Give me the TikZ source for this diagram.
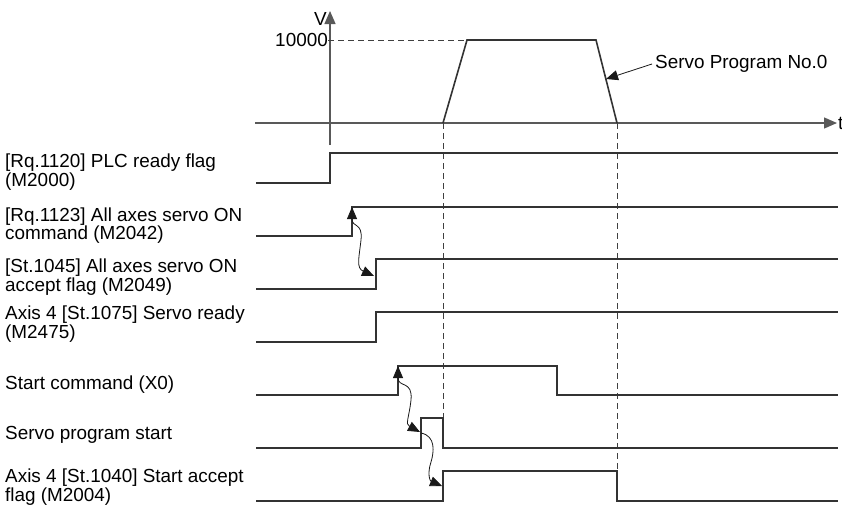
\documentclass[tikz,border=0pt]{standalone}
\usepackage{fontspec}
\setmainfont{Liberation Sans}
\usetikzlibrary{arrows.meta}
\tikzset{
  sig/.style={line width=1.6pt, black!80},
  axisline/.style={line width=1.3pt, black!65, -{Triangle[length=13pt,width=11pt]}},
  guide/.style={dash pattern=on 6pt off 4pt, line width=0.9pt, black!75},
  cause/.style={line width=0.8pt, black!90, >={Triangle[length=12pt,width=10pt]}},
  lbl/.style={align=left, anchor=west, inner sep=0pt, font=\fontsize{18.9}{18.5}\selectfont}
}

\begin{document}
\begin{tikzpicture}[x=1pt,y=-1pt]
  \useasboundingbox (0,0) rectangle (842,506);
  % speed pattern
  \draw[axisline] (330,145) -- (330,11);
  \draw[axisline] (255,123) -- (837,123);
  \node[lbl, anchor=east] (v) at (327,19) {V};
  \node[lbl, anchor=west] (t) at (838,123) {t};
  \node[lbl, anchor=east] (vmax) at (328,40) {10000};
  \draw[guide] (vmax.east) -- (467,40);
  \draw[sig] (443,123) -- (467,40) -- (596,40) -- (617,123);
  \node[lbl] (prog) at (655,64) {Servo Program No.0};
  \draw[cause, ->] (prog.west) ++(-3,0) -- (606,79);
  \draw[guide] (443,123) -- (443,418);
  \draw[guide] (617,123) -- (617,471);

  % signal labels
  \node[lbl] (lplc) at (5,172) {[Rq.1120] PLC ready flag\\(M2000)};
  \node[lbl] (lcmd) at (5,225.5) {[Rq.1123] All axes servo ON\\command (M2042)};
  \node[lbl] (lacc) at (5,277) {[St.1045] All axes servo ON\\accept flag (M2049)};
  \node[lbl] (lrdy) at (5,324) {Axis 4 [St.1075] Servo ready\\(M2475)};
  \node[lbl] (lstart) at (5,385) {Start command (X0)};
  \node[lbl] (lsprog) at (5,435) {Servo program start};
  \node[lbl] (lsacc) at (5,487) {Axis 4 [St.1040] Start accept\\flag (M2004)};

  % timing
  \draw[sig] (256,183) -- (330,183) -- (330,153) -- (838,153);
  \draw[sig] (256,236) -- (352,236) -- (352,207) -- (838,207);
  \draw[sig] (256,289) -- (376,289) -- (376,259) -- (838,259);
  \draw[sig] (256,342) -- (376,342) -- (376,312) -- (838,312);
  \draw[sig] (256,395) -- (398,395) -- (398,366) -- (557,366) -- (557,395) -- (838,395);
  \draw[sig] (256,448) -- (421,448) -- (421,418) -- (443,418) -- (443,448) -- (838,448);
  \draw[sig] (256,501) -- (443,501) -- (443,471) -- (617,471) -- (617,501) -- (838,501);

  % causes
  \draw[cause, <->]
    (352,207) .. controls (352,228) and (363,222) .. (361,240)
    .. controls (359,258) and (356,268) .. (374,276);
  \draw[cause, <->]
    (398,366) .. controls (398,388) and (413,380) .. (411,400)
    .. controls (409,418) and (405,424) .. (420,432);
  \draw[cause, ->]
    (421,433) .. controls (436,436) and (434,452) .. (431,462)
    .. controls (427,474) and (430,481) .. (442,486);
\end{tikzpicture}
\end{document}
